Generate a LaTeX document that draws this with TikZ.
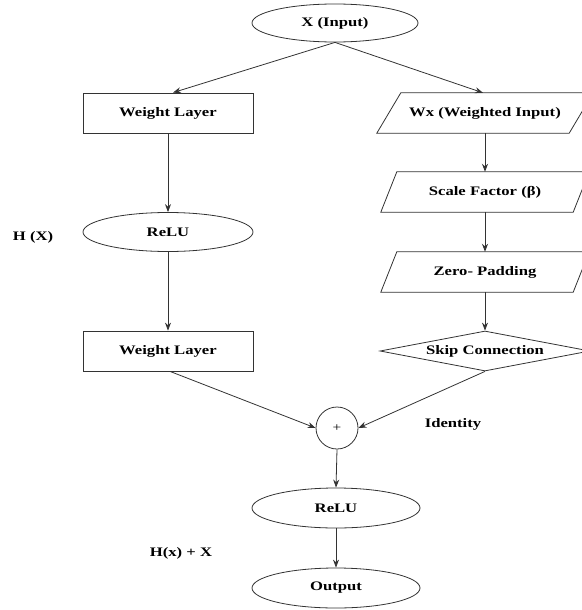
\documentclass[tikz,border=0pt]{standalone}
\usepackage{fontspec}
\setmainfont{Liberation Serif}[FakeStretch=1.28]
\usetikzlibrary{shapes.geometric,arrows.meta,calc}
\begin{document}
\begin{tikzpicture}[x=1pt,y=-1pt,
  every node/.style={font=\fontsize{13}{15}\selectfont\bfseries, text=black},
  ln/.style={draw=black!80, line width=0.8pt},
  arr/.style={ln, -{Stealth[length=8pt,width=6pt]}},
  ell/.style={ellipse, ln, minimum width=166pt, minimum height=40pt, inner sep=0pt},
  boxnode/.style={rectangle, ln, minimum width=170pt, minimum height=40pt},
  pbox/.style={rectangle, minimum width=192pt, minimum height=40pt},
  dia/.style={diamond, ln, aspect=5.25, minimum width=210pt, minimum height=40pt, inner sep=0pt},
  circ/.style={circle, ln, minimum size=42pt, inner sep=0pt,
    font=\fontsize{12}{14}\selectfont\mdseries},
  lbl/.style={}]
\useasboundingbox (0,0) rectangle (581,610);

% nodes
\node[ell, minimum height=38pt] (xin) at (335,23) {X (Input)};
\node[boxnode] (wl1) at (168,113) {Weight Layer};
\node[ell, minimum width=170pt, minimum height=39pt] (relu1) at (168,232) {ReLU};
\node[boxnode] (wl2) at (168,351) {Weight Layer};

\node[pbox] (wx) at (485,113) {Wx (Weighted Input)};
\node[pbox] (sf) at (485,192) {Scale Factor (β)};
\node[pbox] (zp) at (485,272) {Zero- Padding};
\node[dia] (skip) at (485,351) {Skip Connection};

\node[circ] (plus) at (337,428) {+};
\node[ell, minimum width=168pt] (relu2) at (336,508) {ReLU};
\node[ell, minimum width=168pt] (out) at (336,588) {Output};

\node[lbl] (hx) at (33,237) {H (X)};
\node[lbl] (idt) at (453,424) {Identity};
\node[lbl] (hxx) at (181,553) {H(x) + X};

% parallelogram outlines
\draw[ln] ([xshift=-12pt]wx.south west) -- ([xshift=12pt]wx.north west)
  -- ([xshift=12pt]wx.north east) -- ([xshift=-12pt]wx.south east) -- cycle;
\foreach \p in {sf,zp}{
  \draw[ln] ([xshift=-8pt]\p.south west) -- ([xshift=8pt]\p.north west)
    -- ([xshift=8pt]\p.north east) -- ([xshift=-8pt]\p.south east) -- cycle;
}

% connectors
\draw[arr] (xin.south) -- ([xshift=5pt]wl1.north);
\draw[arr] (xin.south) -- ([xshift=-2pt]wx.north);
\draw[arr] (wl1.south) -- (relu1.north);
\draw[arr] (relu1.south) -- (wl2.north);
\draw[arr] (wx.south) -- (sf.north);
\draw[arr] (sf.south) -- (zp.north);
\draw[arr] (zp.south) -- (skip.north);
\draw[arr] ([xshift=2pt]wl2.south) -- (plus.west);
\draw[arr] (skip.south) -- (plus.east);
\draw[arr] (plus.south) -- (relu2.north);
\draw[arr] (relu2.south) -- (out.north);
\end{tikzpicture}
\end{document}
